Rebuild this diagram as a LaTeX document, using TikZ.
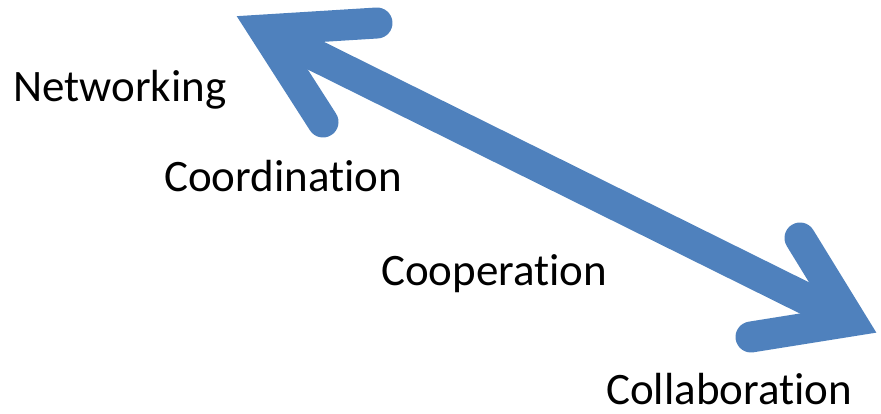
\documentclass[tikz,border=0pt]{standalone}
\usepackage{fontspec}
\setmainfont{Carlito}[Ligatures=NoCommon]
\definecolor{arrowblue}{HTML}{4F81BD}
\begin{document}
\begin{tikzpicture}[x=1pt,y=-1pt,
  thick arrow/.style={draw=arrowblue,line width=31pt,line join=miter,miter limit=10,line cap=round},
  label text/.style={anchor=base west,inner sep=0pt,font=\fontsize{45}{52}\selectfont,text=black}]
\useasboundingbox (0,0) rectangle (881,414);
% geometry
\coordinate (tipA) at (264,30);
\coordinate (armA1) at (377,23);
\coordinate (armA2) at (323,122);
\coordinate (tipB) at (851,321);
\coordinate (armB1) at (751,337);
\coordinate (armB2) at (800,238);
% shaft
\draw[draw=arrowblue,line width=32pt] (tipA) -- (tipB);
% heads
\draw[thick arrow] (armA1) -- (tipA) -- (armA2);
\draw[thick arrow] (armB1) -- (tipB) -- (armB2);
% labels
\node[label text] (net) at (13,102) {Networking};
\node[label text] (coord) at (164,192) {Coordination};
\node[label text] (coop) at (381,285) {Cooperation};
\node[label text] (coll) at (606,404) {Collaboration};
\end{tikzpicture}
\end{document}
